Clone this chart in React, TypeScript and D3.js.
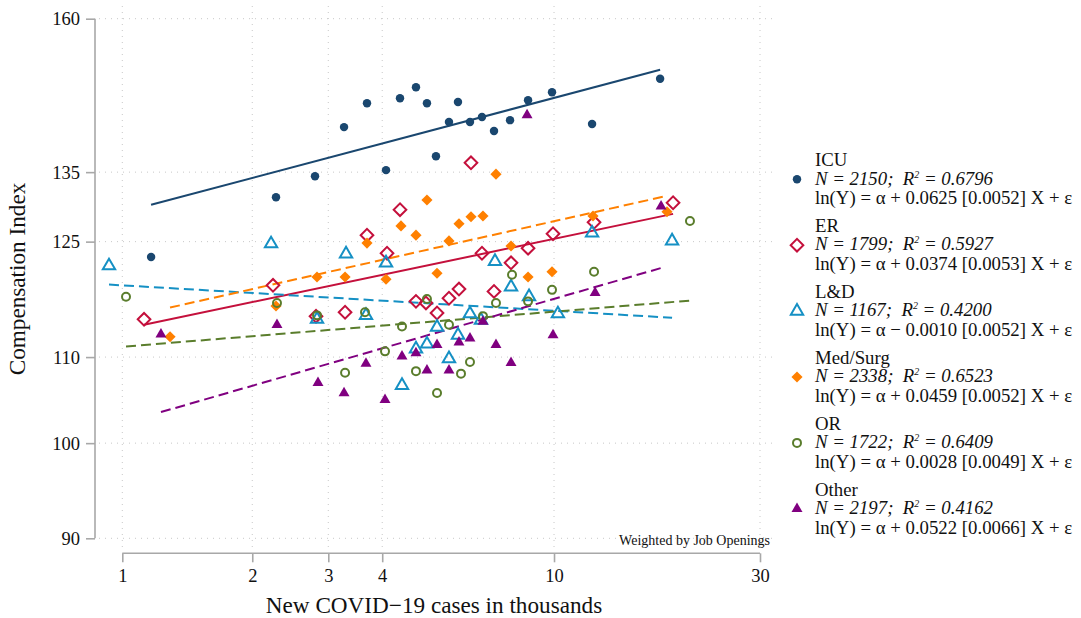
import * as d3 from "d3";
import { useEffect, useRef } from "react";

const xTicks = [1, 2, 3, 4, 10, 30];
const yTicks = [90, 100, 110, 125, 135, 160];

const categories = ["ICU", "ER", "L&D", "Med/Surg", "OR", "Other"];
const nObs = ["2150", "1799", "1167", "2338", "1722", "2197"];
const rSquared = ["0.6796", "0.5927", "0.4200", "0.6523", "0.6409", "0.4162"];
const slopeSign = ["+", "+", "\u2212", "+", "+", "+"];
const slopes = ["0.0625", "0.0374", "0.0010", "0.0459", "0.0028", "0.0522"];
const stdErrs = ["0.0052", "0.0053", "0.0052", "0.0052", "0.0049", "0.0066"];

// new covid cases (thousands) / compensation index, per unit
const icuCases = [1.166, 2.27, 2.795, 3.263, 3.688, 4.082, 4.398, 4.789, 5.078, 5.328, 5.711, 5.992, 6.388, 6.81, 7.261, 7.909, 8.707, 9.894, 12.25, 17.61];
const icuIndex = [122.9, 131.3, 134.4, 141.9, 145.7, 135.3, 146.5, 148.3, 145.7, 137.4, 142.7, 145.9, 142.7, 143.5, 141.3, 143.0, 146.2, 147.5, 142.4, 149.7];

const erCases = [1.123, 2.234, 2.81, 3.281, 3.688, 4.104, 4.398, 4.789, 5.051, 5.358, 5.711, 6.024, 6.422, 6.81, 7.261, 7.951, 8.707, 9.947, 12.38, 18.87];
const erIndex = [114.7, 119.1, 115.1, 115.6, 125.9, 123.4, 129.5, 117.0, 116.8, 115.5, 117.4, 118.6, 136.4, 123.4, 118.3, 122.1, 124.1, 126.1, 127.7, 130.5];

const ldCases = [0.9315, 2.211, 2.825, 3.298, 3.668, 4.082, 4.445, 4.789, 5.078, 5.358, 5.711, 5.992, 6.388, 6.774, 7.299, 7.951, 8.753, 10.21, 12.25, 18.77];
const ldIndex = [121.7, 124.7, 114.7, 123.3, 115.2, 122.1, 106.6, 111.0, 111.6, 113.7, 109.8, 112.7, 115.4, 114.6, 122.3, 118.9, 117.6, 115.4, 126.2, 125.1];

const msCases = [1.29, 2.27, 2.825, 3.281, 3.688, 4.082, 4.421, 4.789, 5.078, 5.358, 5.711, 6.024, 6.422, 6.846, 7.338, 7.951, 8.707, 9.894, 12.31, 18.27];
const msIndex = [112.5, 116.4, 120.2, 120.2, 124.8, 119.9, 127.2, 125.9, 130.9, 120.7, 125.1, 127.5, 128.5, 128.6, 134.7, 124.4, 120.2, 120.9, 128.6, 129.2];

const orCases = [1.02, 2.282, 2.825, 3.281, 3.649, 4.06, 4.445, 4.789, 5.078, 5.358, 5.711, 6.089, 6.388, 6.846, 7.338, 7.993, 8.707, 9.894, 12.38, 20.65];
const orIndex = [117.6, 116.8, 115.2, 108.1, 115.6, 110.7, 113.8, 108.3, 117.3, 105.7, 114.0, 108.0, 109.4, 115.1, 116.8, 120.5, 117.0, 118.5, 120.9, 127.9];

const otherCases = [1.229, 2.282, 2.84, 3.263, 3.668, 4.06, 4.445, 4.789, 5.078, 5.358, 5.711, 6.024, 6.388, 6.846, 7.338, 7.951, 8.661, 9.947, 12.45, 17.7];
const otherIndex = [112.8, 114.0, 106.9, 105.7, 109.2, 104.9, 110.1, 110.5, 108.4, 111.5, 108.4, 111.8, 112.3, 114.4, 111.5, 109.3, 143.8, 112.7, 118.1, 130.0];

// fitted index at the smallest and largest case value of each unit
const fitStart = [130.2, 114.0, 119.2, 116.2, 111.3, 103.5];
const fitEnd = [151.2, 128.9, 114.9, 131.5, 117.1, 121.4];

const allCases = [icuCases, erCases, ldCases, msCases, orCases, otherCases];
const allIndex = [icuIndex, erIndex, ldIndex, msIndex, orIndex, otherIndex];

const looks = [
  { color: "#1a476f", shape: "circle", fill: true, size: 56, dash: null },
  { color: "#c4103c", shape: "diamond", fill: false, size: 80, dash: null },
  { color: "#1590c4", shape: "triangle", fill: false, size: 66, dash: "10,5" },
  { color: "#ff8000", shape: "diamond", fill: true, size: 62, dash: "10,5" },
  { color: "#5a7d2c", shape: "circle", fill: false, size: 50, dash: "10,5" },
  { color: "#800080", shape: "triangle", fill: true, size: 52, dash: "10,5" },
];

const font = "'Liberation Serif', 'Times New Roman', serif";

function markerPath(shape: string, size: number) {
  const type =
    shape === "circle" ? d3.symbolCircle : shape === "diamond" ? d3.symbolSquare : d3.symbolTriangle;
  return d3.symbol().type(type).size(size)() as string;
}

function drawMarker(g: any, look: any, x: number, y: number) {
  g.append("path")
    .attr("d", markerPath(look.shape, look.size))
    .attr("transform", `translate(${x},${y})` + (look.shape === "diamond" ? " rotate(45)" : ""))
    .attr("fill", look.fill ? look.color : "white")
    .attr("fill-opacity", look.fill ? 1 : 0)
    .attr("stroke", look.color)
    .attr("stroke-width", look.fill ? 0 : 2);
}

function App() {
  const w = 1081;
  const h = 618;
  const svgRef = useRef(null);

  useEffect(() => {
    const svg = d3.select(svgRef.current);
    svg.selectAll("*").remove();

    const xScale = d3.scaleLog().domain([1, 30]).range([122.3, 760]);
    const yScale = d3.scaleLog().domain([90, 160]).range([538.3, 18.7]);

    // grid
    const grid = svg.append("g").attr("stroke", "#c8c8c8").attr("stroke-width", 1).attr("stroke-dasharray", "1,5");
    xTicks.forEach((t) => {
      grid.append("line").attr("x1", xScale(t)).attr("x2", xScale(t)).attr("y1", 6).attr("y2", 552);
    });
    yTicks.forEach((t) => {
      grid.append("line").attr("x1", 99).attr("x2", 772).attr("y1", yScale(t)).attr("y2", yScale(t));
    });

    // axes
    const yAxis = d3.axisLeft(yScale).tickValues(yTicks).tickSize(9).tickPadding(6).tickFormat((d: any) => String(d));
    svg.append("g").attr("class", "y-axis").attr("transform", "translate(95,0)").call(yAxis);
    const xAxis = d3.axisBottom(xScale).tickValues(xTicks).tickSize(9).tickPadding(6).tickFormat((d: any) => String(d));
    svg.append("g").attr("class", "x-axis").attr("transform", "translate(0,553.3)").call(xAxis);
    svg.selectAll(".domain").attr("stroke", "#a8a8a8").attr("stroke-width", 1.6);
    svg.selectAll(".tick line").attr("stroke", "#a8a8a8").attr("stroke-width", 1.6);
    svg.selectAll(".tick text").attr("font-family", font).attr("font-size", 18.5).attr("fill", "#111");
    svg.select(".y-axis .domain").attr("d", `M0,${yScale(160)}V${yScale(90)}`);
    svg.select(".x-axis .domain").attr("d", `M${xScale(1)},0H${xScale(30)}`);
    svg.selectAll(".y-axis .tick text").attr("dy", "0.34em");
    svg.selectAll(".x-axis .tick text").attr("dy", "0.72em");

    // fitted lines
    const line = d3
      .line<number>()
      .x((d, i) => xScale(i === 0 ? d3.min(allCases[d])! : d3.max(allCases[d])!))
      .y((d, i) => yScale(i === 0 ? fitStart[d] : fitEnd[d]));
    categories.forEach((c, k) => {
      svg
        .append("path")
        .attr("d", line([k, k]))
        .attr("fill", "none")
        .attr("stroke", looks[k].color)
        .attr("stroke-width", 2)
        .attr("stroke-dasharray", looks[k].dash ?? null);
    });

    // points
    const pts = svg.append("g");
    categories.forEach((c, k) => {
      allCases[k].forEach((v, i) => drawMarker(pts, looks[k], xScale(v), yScale(allIndex[k][i])));
    });

    // titles
    svg
      .append("text")
      .attr("x", 434)
      .attr("y", 613)
      .attr("text-anchor", "middle")
      .attr("font-family", font)
      .attr("font-size", 23.2)
      .attr("fill", "#111")
      .text("New COVID\u221219 cases in thousands");
    svg
      .append("text")
      .attr("transform", "translate(25,279) rotate(-90)")
      .attr("text-anchor", "middle")
      .attr("font-family", font)
      .attr("font-size", 23.2)
      .attr("fill", "#111")
      .text("Compensation Index");
    svg
      .append("text")
      .attr("x", 770)
      .attr("y", 545)
      .attr("text-anchor", "end")
      .attr("font-family", font)
      .attr("font-size", 14)
      .attr("fill", "#111")
      .text("Weighted by Job Openings");

    // legend
    const leg = svg.append("g").attr("font-family", font).attr("font-size", 18.8).attr("fill", "#111");
    categories.forEach((c, k) => {
      const base = 166 + k * 65.9;
      leg.append("text").attr("x", 815).attr("y", base).text(c);
      const nLine = leg
        .append("text")
        .attr("x", 815)
        .attr("y", base + 18.5)
        .attr("font-style", "italic")
        .style("white-space", "pre");
      nLine.append("tspan").text(`N = ${nObs[k]};  R`);
      nLine.append("tspan").attr("dy", -7).attr("font-size", 10).text("2");
      nLine.append("tspan").attr("dy", 7).text(` = ${rSquared[k]}`);
      leg
        .append("text")
        .attr("x", 815)
        .attr("y", base + 38.3)
        .style("white-space", "pre")
        .text(`ln(Y) = \u03b1 ${slopeSign[k]} ${slopes[k]} [${stdErrs[k]}] X + \u03b5`);
      drawMarker(leg, looks[k], 797, base + 13.3);
    });
  }, []);

  return (
    <svg ref={svgRef} width={w} height={h} style={{ position: "absolute", left: 0, top: 0, background: "white" }} />
  );
}

export default App;
